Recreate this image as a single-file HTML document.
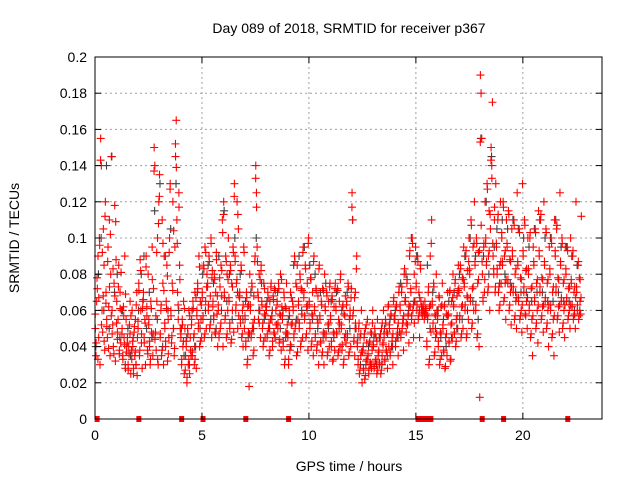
<!DOCTYPE html>
<html><head><meta charset="utf-8"><style>
body{margin:0;background:#fff;width:640px;height:480px;overflow:hidden}
text{font-family:"Liberation Sans",sans-serif;font-size:14px;fill:#000}
</style></head><body>
<svg id="chart" width="640" height="480">
<rect width="640" height="480" fill="#fff"/>
<g id="grid"></g><g id="gray"></g><g id="red"></g><g id="red2"></g><g id="marks"></g><g id="axes"></g>
<text x="349" y="33" text-anchor="middle">Day 089 of 2018, SRMTID for receiver p367</text>
<text x="349" y="471" text-anchor="middle">GPS time / hours</text>
<text transform="translate(19,238) rotate(-90)" text-anchor="middle">SRMTID / TECUs</text>
</svg>
<script>
const xTicks=[0,5,10,15,20];
const yTicks=[0,0.02,0.04,0.06,0.08,0.1,0.12,0.14,0.16,0.18,0.2];
const yTickLabels=["0","0.02","0.04","0.06","0.08","0.1","0.12","0.14","0.16","0.18","0.2"];
const binHours=0.25;
// red series values in milli-TECU, per 0.25h bin
const redVals=[
[50,35,65,72,90,45,100,30],[155,140,60,48,105,85,38,120],[70,55,45,95,62,110,35,80],[145,60,52,40,75,118,32,88],
[65,48,55,85,38,70,42,60],[50,35,62,45,90,28,55,40],[45,30,40,52,65,25,38,60],[40,25,48,35,55,30,70,45],
[50,75,35,88,60,42,28,65],[70,45,55,30,90,62,38,80],[55,40,30,65,48,95,35,72],[150,140,48,38,65,100,30,120],
[135,45,60,35,110,75,30,90],[50,40,65,85,32,55,45,100],[130,60,42,75,120,50,35,95],[145,165,110,70,55,125,85,50],
[45,30,55,40,65,25,50,35],[40,20,50,30,60,25,45,35],[55,35,65,45,30,70,40,28],[60,75,50,90,40,65,55,45],
[70,55,85,45,95,65,50,80],[75,60,90,50,68,100,45,82],[65,55,80,48,70,92,58,40],[60,45,78,50,85,68,110,40],
[120,70,55,90,45,80,60,100],[65,50,85,42,75,60,95,48],[130,90,60,75,120,50,105,68],[70,55,85,45,60,40,95,50],
[55,40,70,30,62,48,18,80],[60,45,75,50,35,68,55,90],[140,125,95,70,55,80,60,45],[85,65,50,40,75,58,45,62],
[60,45,70,50,35,65,55,75],[55,40,68,48,72,45,60,52],[65,50,75,42,58,80,38,62],[55,40,70,30,62,48,75,52],
[45,30,60,38,70,52,20,65],[60,45,90,50,75,35,85,55],[65,50,80,40,72,58,45,95],[70,55,85,45,62,75,38,100],
[65,50,78,40,58,70,35,90],[60,45,72,38,55,68,30,85],[55,42,65,35,72,48,30,80],[60,45,70,35,52,65,40,75],
[55,40,68,32,48,62,38,75],[60,48,72,35,55,65,40,80],[50,38,62,30,58,45,68,42],[65,45,75,35,55,60,40,72],
[125,110,60,45,35,70,50,90],[40,30,50,25,45,35,60,20],[38,28,45,22,50,32,42,55],[35,25,42,30,48,28,38,60],
[40,28,50,32,45,25,55,35],[38,30,45,25,50,35,42,60],[45,32,55,38,48,28,62,40],[50,35,58,40,45,30,65,55],
[55,40,62,45,50,35,70,48],[60,45,70,50,55,38,80,65],[65,48,75,52,58,42,90,62],[70,55,100,60,45,80,65,95],
[75,60,90,55,70,45,85,65],[60,58,62,60,55,65,60,58],[40,55,70,30,62,90,48,110],[65,50,75,35,58,45,80,60],
[55,40,68,30,48,62,35,75],[50,38,62,28,45,58,35,70],[58,42,70,32,52,65,45,80],[62,48,75,40,55,68,50,85],
[70,55,85,45,62,78,50,95],[75,60,90,45,68,82,55,100],[80,65,110,50,72,95,60,120],[85,60,100,45,75,92,40,12],
[190,180,155,80,65,95,70,120],[100,85,130,70,90,115,60,105],[150,140,175,90,80,110,70,130],[95,80,110,70,60,85,120,75],
[100,85,120,65,90,75,55,110],[95,75,115,60,88,70,52,105],[90,70,110,55,80,65,50,125],[85,65,105,55,78,60,48,130],
[90,70,110,58,82,65,50,100],[80,60,100,45,72,55,35,95],[85,65,105,50,75,60,42,115],[90,70,110,55,78,62,48,120],
[85,65,105,50,75,60,40,95],[80,60,100,45,70,55,35,110],[90,70,105,55,78,62,48,125],[85,65,100,50,75,60,45,95],
[80,65,95,55,72,60,50,100],[75,62,90,55,70,58,50,120],[70,60,85,55,78,65,58,112]];
const redVals2=[
[58,42,78,33,67,96],[143,52,92,68,43,112],[64,51,87,39,73,102],[57,47,83,36,68,109],
[53,44,73,36,61,81],[47,33,57,41,69,37],[42,27,36,47,57,33],[43,28,51,37,63,24],
[54,71,38,82,47,61],[66,42,53,84,57,36],[52,43,33,61,77,47],[137,44,57,92,33,108],
[123,47,63,38,97,71],[53,43,61,79,36,92],[127,57,46,71,104,39],[152,139,97,63,117,77],
[47,33,52,43,61,27],[43,23,47,33,57,38],[52,37,61,47,33,67],[57,72,53,84,43,63],
[67,57,83,47,92,73],[73,63,87,52,97,78],[62,57,77,47,88,68],[63,47,73,53,82,103],
[113,67,57,87,47,77],[67,53,82,44,73,92],[123,87,63,77,113,57],[67,53,82,47,63,92],
[57,43,67,33,63,47],[63,47,73,53,38,87],[133,117,87,67,53,77],[82,63,53,43,72,57],
[62,47,67,53,38,73],[57,43,66,47,71,52],[63,53,72,44,57,77],[57,43,67,33,61,47],
[47,33,57,41,67,53],[62,47,87,53,73,37],[63,53,77,43,71,92],[67,57,83,47,63,97],
[63,53,77,43,57,87],[62,47,71,41,53,83],[57,43,63,37,71,47],[62,47,68,37,53,73],
[57,43,66,33,47,72],[62,47,71,37,53,77],[52,41,63,33,57,47],[63,47,73,37,57,67],
[117,57,43,67,53,83],[42,33,53,27,47,37],[37,27,47,24,52,33],[36,27,43,31,47,53],
[41,29,47,33,43,27],[37,31,47,27,53,41],[47,33,53,37,47,63],[52,37,57,43,47,67],
[57,43,63,47,53,73],[63,47,73,53,57,83],[67,53,77,57,63,93],[72,57,97,63,53,87],
[73,63,87,57,67,83],[62,57,63,59,57,61],[43,57,73,33,63,97],[63,53,73,37,57,47],
[57,43,67,33,47,63],[52,37,63,29,47,57],[57,43,71,33,53,67],[63,47,77,43,57,71],
[72,57,83,47,63,77],[73,63,93,47,67,87],[83,67,107,53,73,97],[87,63,97,47,77,93],
[153,107,87,67,97,77],[97,87,127,73,93,113],[143,133,97,83,117,73],[97,83,113,73,63,87],
[103,87,117,67,93,77],[97,77,113,63,87,73],[93,73,107,57,83,67],[87,67,103,57,77,63],
[93,73,107,57,83,67],[83,63,103,47,73,57],[87,67,103,53,77,63],[93,73,113,57,77,63],
[87,67,103,53,77,63],[83,63,97,47,73,57],[93,73,107,57,77,63],[87,67,97,53,77,63],
[83,67,93,57,73,63],[77,63,93,57,73,67],[73,63,87,57,77,67]];
// gray series, 2 per bin (milli-TECU)
const grayVals=[
[40,80],[100,60],[140,50],[145,70],[80,45],[60,30],[50,35],[45,30],[60,80],[90,50],[70,45],[115,55],
[130,40],[90,60],[105,50],[130,60],[50,35],[45,30],[60,40],[70,50],[80,60],[85,55],[75,50],[90,60],
[115,65],[80,55],[100,70],[80,55],[65,45],[70,50],[100,60],[75,55],[65,50],[60,45],[70,50],[60,45],
[55,40],[85,55],[90,60],[95,60],[85,55],[80,50],[70,45],[75,50],[65,45],[70,50],[60,45],[70,50],
[110,50],[45,30],[40,30],[40,30],[45,30],[45,30],[50,35],[55,40],[60,45],[75,55],[80,60],[100,65],
[90,60],[60,58],[85,50],[70,50],[60,45],[55,40],[65,45],[70,50],[80,55],[90,60],[100,65],[90,55],
[155,90],[120,80],[145,95],[105,75],[110,80],[105,75],[110,70],[105,70],[100,70],[95,65],[105,70],[110,70],
[100,65],[100,65],[110,70],[95,65],[95,65],[90,60],[85,60]];
const markerHours=[0.1,2.05,4.05,5.05,7.05,9.05,15.1,15.25,15.4,15.55,15.7,18.1,19.1,22.1];

const L=95,R=602,T=57,B=419,X0=0,X1=23.7,Y0=0,Y1=0.2;
const xs=h=>L+(h-X0)/(X1-X0)*(R-L);
const ys=v=>B-(v-Y0)/(Y1-Y0)*(B-T);
const NS="http://www.w3.org/2000/svg";
function mk(tag,attrs,parent){const e=document.createElementNS(NS,tag);for(const k in attrs)e.setAttribute(k,attrs[k]);parent.appendChild(e);return e;}
const grid=document.getElementById('grid'),axes=document.getElementById('axes');
yTicks.forEach((v,i)=>{const y=ys(v);
 if(i>0&&i<yTicks.length-1){const g=mk('line',{x1:L,x2:R,y1:y,y2:y,stroke:'#a0a0a0','stroke-dasharray':'2,3','stroke-width':1},grid);
 
 }
 mk('line',{x1:L,x2:L+6,y1:y,y2:y,stroke:'#000'},axes);mk('line',{x1:R,x2:R-6,y1:y,y2:y,stroke:'#000'},axes);
 const t=mk('text',{x:L-8,y:y+5,'text-anchor':'end'},axes);t.textContent=yTickLabels[i];
 
 });
xTicks.forEach(h=>{const x=xs(h);
 if(h>0){const g=mk('line',{x1:x,x2:x,y1:T,y2:B,stroke:'#a0a0a0','stroke-dasharray':'2,3'},grid);
 
 }
 mk('line',{x1:x,x2:x,y1:B,y2:B-6,stroke:'#000'},axes);mk('line',{x1:x,x2:x,y1:T,y2:T+6,stroke:'#000'},axes);
 const t=mk('text',{x:x,y:B+21,'text-anchor':'middle'},axes);t.textContent=String(h);
 
 });
const fr=mk('rect',{x:L,y:T,width:R-L,height:B-T,fill:'none',stroke:'#000'},axes);


function plus(g,h,v,col){const x=xs(h),y=ys(v);
 return mk('path',{d:`M${x-4} ${y}h8M${x} ${y-4}v8`,stroke:col,'stroke-width':1.1,fill:'none'},g);}
function drawSeries(vals,gid,col,name,off){const g=document.getElementById(gid);
 
 
 vals.forEach((bin,i)=>bin.forEach((v,k)=>{const h=i*binHours+(k+off)/bin.length*binHours;
  const p=plus(g,h,v/1000,col);
  
  }));}
drawSeries(grayVals,'gray','#404040','gray-series',0.3);
drawSeries(redVals,'red','#ff0000','red-series',0.5);
drawSeries(redVals2,'red2','#ff0000','red-series-b',0.25);
const mg=document.getElementById('marks');
markerHours.forEach(h=>{const r=mk('rect',{x:xs(h)-2.5,y:B-3,width:5,height:6,fill:'#ff0000'},mg);
 
 });
</script>
</body></html>
